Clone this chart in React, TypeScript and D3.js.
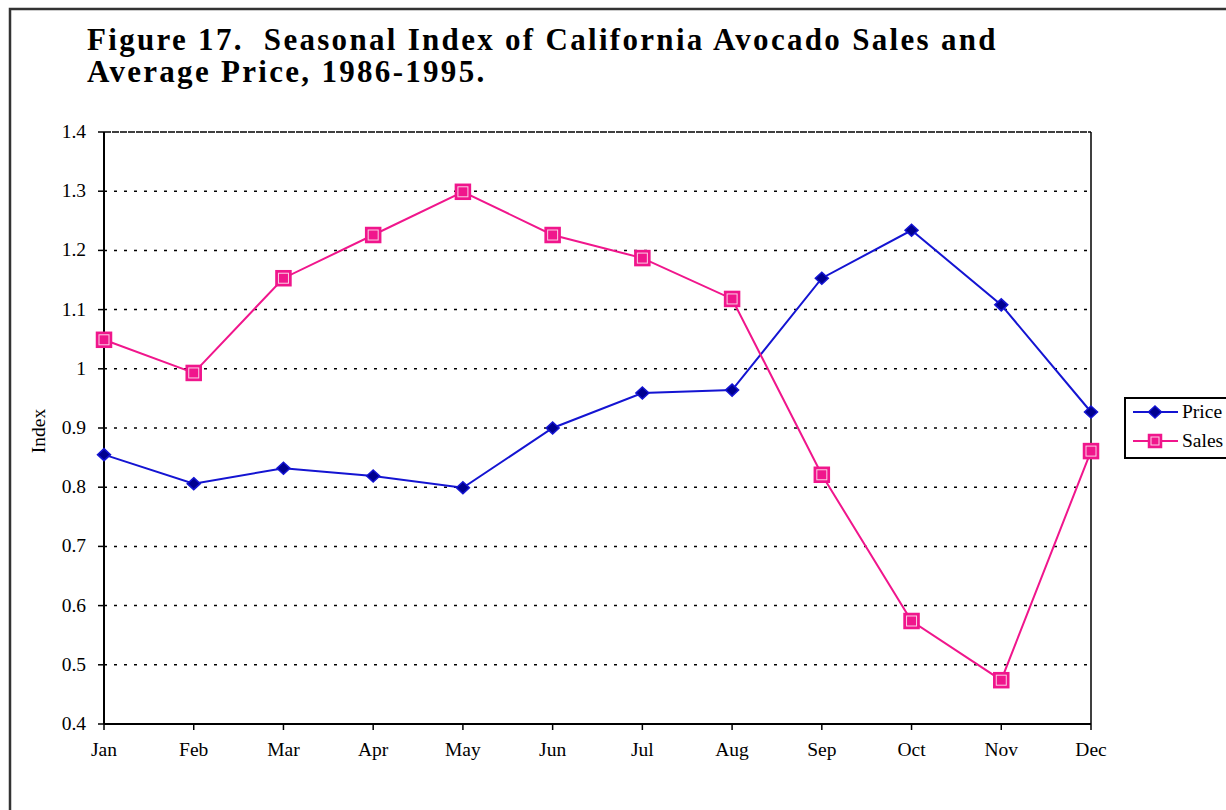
import React from "react";
import * as d3 from "d3";

const months = ["Jan", "Feb", "Mar", "Apr", "May", "Jun", "Jul", "Aug", "Sep", "Oct", "Nov", "Dec"];
const priceValues = [0.855, 0.806, 0.832, 0.819, 0.799, 0.900, 0.959, 0.964, 1.153, 1.234, 1.108, 0.927];
const salesValues = [1.049, 0.993, 1.153, 1.226, 1.299, 1.226, 1.187, 1.118, 0.821, 0.574, 0.474, 0.861];
const yTicks = [0.4, 0.5, 0.6, 0.7, 0.8, 0.9, 1, 1.1, 1.2, 1.3, 1.4];
const titleLines = ["Figure 17.  Seasonal Index of California Avocado Sales and", "Average Price, 1986-1995."];

const W = 1226;
const H = 810;
const left = 104;
const right = 1091;
const top = 132;
const bottom = 724;

export default function App() {
  const x = d3.scalePoint<string>().domain(months).range([left, right]);
  const y = d3.scaleLinear().domain([0.4, 1.4]).range([bottom, top]);
  const line = d3
    .line<number>()
    .x((_, i) => x(months[i]) as number)
    .y((d) => y(d));
  const priceColor = "#1414d2";
  const salesColor = "#f0168c";
  const font = "'Liberation Serif', 'Times New Roman', serif";
  const fs = 19.5;

  return (
    <svg width={W} height={H} style={{ position: "absolute", left: 0, top: 0, display: "block" }} fontFamily={font}>
      <rect x={0} y={0} width={W} height={H} fill="#fff" />
      {/* outer frame */}
      <rect x={10} y={9} width={W + 20} height={H + 20} fill="none" stroke="#333" strokeWidth={2.5} />
      {/* title */}
      {titleLines.map((t, i) => (
        <text
          key={i}
          x={87}
          y={50 + i * 32}
          fontSize={31}
          fontWeight="bold"
          letterSpacing={2.3}
          fill="#000"
          style={{ whiteSpace: "pre" }}
        >
          {t}
        </text>
      ))}
      {/* gridlines */}
      {yTicks.filter((v) => v > 0.4).map((v) => (
        <line
          key={v}
          x1={left}
          x2={right}
          y1={y(v)}
          y2={y(v)}
          stroke="#000"
          strokeWidth={1.5}
          strokeDasharray={v === 1.4 ? "7,1" : "3,7"}
        />
      ))}
      {/* right border */}
      <line x1={right} x2={right} y1={top} y2={bottom} stroke="#000" strokeWidth={1.5} />
      {/* axes */}
      <line x1={left} x2={left} y1={top} y2={bottom} stroke="#000" strokeWidth={2} />
      <line x1={left} x2={right} y1={bottom} y2={bottom} stroke="#000" strokeWidth={2} />
      {yTicks.map((v) => (
        <g key={v}>
          <line x1={left - 6} x2={left} y1={y(v)} y2={y(v)} stroke="#000" strokeWidth={1.5} />
          <text x={86} y={y(v) + 6} textAnchor="end" fontSize={fs} fill="#000">
            {String(v)}
          </text>
        </g>
      ))}
      {months.map((m) => (
        <g key={m}>
          <line x1={x(m)} x2={x(m)} y1={bottom} y2={bottom + 6} stroke="#000" strokeWidth={1.5} />
          <text x={x(m)} y={756} textAnchor="middle" fontSize={fs} fill="#000">
            {m}
          </text>
        </g>
      ))}
      <text transform={`translate(45,431) rotate(-90)`} textAnchor="middle" fontSize={fs} fill="#000">
        Index
      </text>
      {/* series */}
      <path d={line(priceValues) || ""} fill="none" stroke={priceColor} strokeWidth={2} />
      <path d={line(salesValues) || ""} fill="none" stroke={salesColor} strokeWidth={2} />
      {priceValues.map((v, i) => {
        const cx = x(months[i]) as number;
        const cy = y(v);
        return (
          <path
            key={i}
            d={`M${cx},${cy - 6}L${cx + 6.5},${cy}L${cx},${cy + 6}L${cx - 6.5},${cy}Z`}
            fill="#000090"
            stroke={priceColor}
            strokeWidth={1.5}
          />
        );
      })}
      {salesValues.map((v, i) => {
        const cx = x(months[i]) as number;
        const cy = y(v);
        return (
          <g key={i}>
            <rect x={cx - 7.5} y={cy - 7.5} width={15} height={15} fill={salesColor} stroke={salesColor} strokeWidth={1.5} />
            <rect x={cx - 5} y={cy - 5} width={10} height={10} fill="none" stroke="#fbd0e6" strokeWidth={1} />
          </g>
        );
      })}
      {/* legend */}
      <rect x={1125} y={398} width={120} height={60} fill="#fff" stroke="#000" strokeWidth={2} />
      <line x1={1133} x2={1178} y1={412} y2={412} stroke={priceColor} strokeWidth={2} />
      <path d={`M1155,406L1161.5,412L1155,418L1148.5,412Z`} fill="#000090" stroke={priceColor} strokeWidth={1.5} />
      <text x={1182} y={418} fontSize={fs} fill="#000">Price</text>
      <line x1={1133} x2={1178} y1={441} y2={441} stroke={salesColor} strokeWidth={2} />
      <rect x={1148.5} y={434.5} width={13} height={13} fill={salesColor} stroke={salesColor} strokeWidth={1.5} />
      <rect x={1151} y={437} width={8} height={8} fill="none" stroke="#fbd0e6" strokeWidth={1} />
      <text x={1182} y={447} fontSize={fs} fill="#000">Sales</text>
    </svg>
  );
}
